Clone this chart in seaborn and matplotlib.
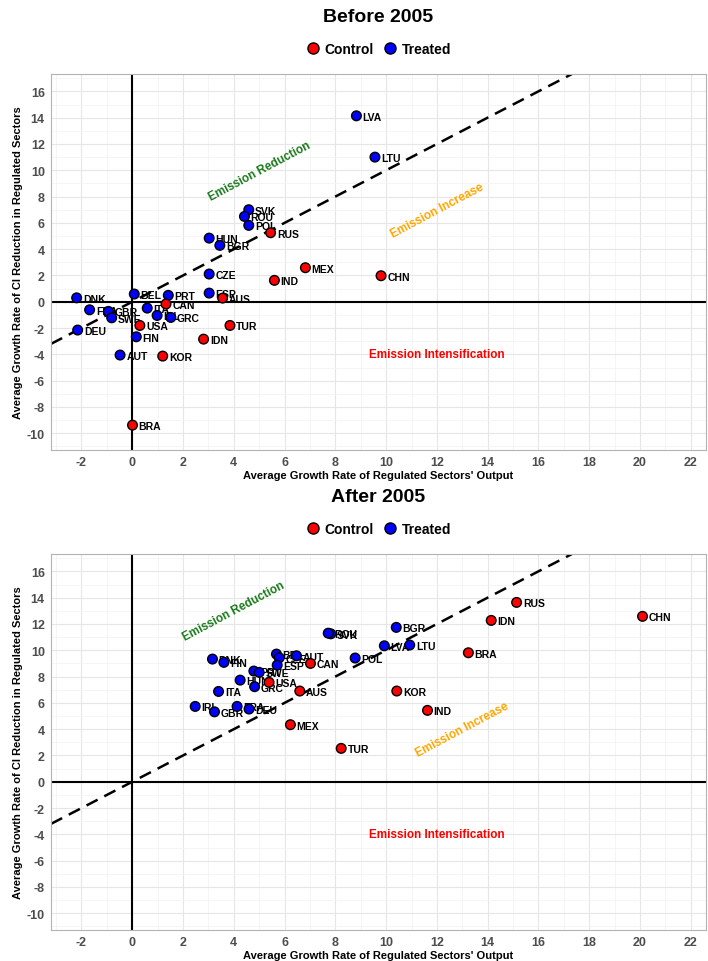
import pandas as pd
import matplotlib.pyplot as plt
import seaborn as sns
from matplotlib.lines import Line2D
from matplotlib.ticker import MultipleLocator

countries = ['DNK', 'BEL', 'PRT', 'CZE', 'ESP', 'AUS', 'CAN', 'ITA', 'IRL', 'GRC',
             'FRA', 'GBR', 'SWE', 'DEU', 'USA', 'FIN', 'TUR', 'IDN', 'AUT', 'KOR',
             'BRA', 'LVA', 'LTU', 'SVK', 'ROU', 'POL', 'RUS', 'HUN', 'BGR', 'MEX',
             'IND', 'CHN']
control = ['AUS', 'CAN', 'USA', 'TUR', 'IDN', 'KOR', 'BRA', 'RUS', 'MEX', 'IND', 'CHN']
group = ['Control' if c in control else 'Treated' for c in countries]

# before 2005
x_before = [-2.19, 0.08, 1.42, 3.03, 3.03, 3.56, 1.33, 0.59, 0.98, 1.52,
            -1.68, -0.94, -0.81, -2.15, 0.30, 0.16, 3.85, 2.81, -0.48, 1.20,
            0.01, 8.83, 9.56, 4.59, 4.42, 4.59, 5.45, 3.03, 3.45, 6.82,
            5.60, 9.80]
y_before = [0.30, 0.59, 0.49, 2.11, 0.66, 0.28, -0.17, -0.48, -1.04, -1.19,
            -0.61, -0.73, -1.22, -2.15, -1.80, -2.66, -1.80, -2.84, -4.05, -4.13,
            -9.38, 14.14, 11.00, 7.00, 6.49, 5.81, 5.25, 4.84, 4.29, 2.59,
            1.63, 1.98]

# after 2005
x_after = [3.16, 5.68, 4.79, 5.79, 5.71, 6.60, 7.02, 3.40, 2.48, 4.82,
           4.13, 3.24, 5.00, 4.60, 5.39, 3.61, 8.23, 14.14, 6.47, 10.42,
           13.24, 9.93, 10.93, 7.82, 7.72, 8.78, 15.14, 4.25, 10.40, 6.23,
           11.63, 20.10]
y_after = [9.33, 9.71, 8.42, 9.43, 8.87, 6.90, 9.00, 6.87, 5.73, 7.23,
           5.73, 5.32, 8.32, 5.53, 7.56, 9.08, 2.54, 12.27, 9.58, 6.90,
           9.81, 10.34, 10.40, 11.25, 11.30, 9.41, 13.64, 7.73, 11.74, 4.34,
           5.43, 12.58]

panels = [
    ('Before 2005', x_before, y_before, [(5, 10), (12, 7), (12, -4)]),
    ('After 2005', x_after, y_after, [(4, 13), (13, 4), (12, -4)]),
]

palette = {'Control': '#FF0000', 'Treated': '#0000FF'}

sns.set_style('white')
plt.rcParams['font.family'] = ['Liberation Sans', 'DejaVu Sans']
plt.rcParams['text.color'] = 'black'
plt.rcParams['axes.labelcolor'] = 'black'
plt.rcParams['axes.unicode_minus'] = False

fig = plt.figure(figsize=(7.08, 9.62), dpi=100)
W, H = 708, 962
tops = [75, 555]

for (title, xs, ys, ann), top in zip(panels, tops):
    ax = fig.add_axes([51 / W, 1 - (top + 376) / H, 655 / W, 376 / H])
    df = pd.DataFrame({'country': countries, 'group': group, 'x': xs, 'y': ys})

    ax.axhline(0, color='black', lw=1.5, zorder=2)
    ax.axvline(0, color='black', lw=1.5, zorder=2)
    ax.axline((0, 0), slope=1, color='black', lw=1.8, dashes=(5, 3), zorder=2)

    for _, r in df.iterrows():
        ax.annotate(r['country'], (r['x'], r['y']), xytext=(4.5, -0.7),
                    textcoords='offset points', ha='left', va='center',
                    fontsize=7.5, fontweight='bold', color='black', zorder=3)

    sns.scatterplot(data=df, x='x', y='y', hue='group', palette=palette,
                    s=48, edgecolor='black', linewidth=1, legend=False,
                    ax=ax, zorder=4)

    (rx, ry), (ix, iy), (nx, ny) = ann
    ax.text(rx, ry, 'Emission Reduction', color='#1A7A1A', fontsize=8.5,
            fontweight='bold', rotation=28, ha='center', va='center')
    ax.text(ix, iy, 'Emission Increase', color='#FFA500', fontsize=8.5,
            fontweight='bold', rotation=28, ha='center', va='center')
    ax.text(nx, ny, 'Emission Intensification', color='#FF0000', fontsize=8.5,
            fontweight='bold', ha='center', va='center')

    ax.set_xlim(-3.2, 22.6)
    ax.set_ylim(-11.27, 17.32)
    ax.xaxis.set_major_locator(MultipleLocator(2))
    ax.yaxis.set_major_locator(MultipleLocator(2))
    ax.xaxis.set_minor_locator(MultipleLocator(1))
    ax.yaxis.set_minor_locator(MultipleLocator(1))
    ax.grid(which='major', color='#E6E6E6', lw=0.8, zorder=0)
    ax.grid(which='minor', color='#F2F2F2', lw=0.5, zorder=0)
    ax.set_axisbelow(True)
    for sp in ax.spines.values():
        sp.set_color('#B3B3B3')
        sp.set_linewidth(0.8)
    ax.tick_params(which='major', length=2.5, width=0.8, color='#B3B3B3',
                   labelsize=9, labelcolor='#4D4D4D', pad=2)
    ax.tick_params(which='minor', length=0)
    for lab in ax.get_xticklabels() + ax.get_yticklabels():
        lab.set_fontweight('bold')

    ax.set_xlabel("Average Growth Rate of Regulated Sectors' Output",
                  fontsize=8, fontweight='bold', color='black')
    ax.set_ylabel('Average Growth Rate of CI Reduction in Regulated Sectors',
                  fontsize=8, fontweight='bold', color='black')
    ax.xaxis.label.set_va('center')
    ax.yaxis.label.set_va('center')
    ax.xaxis.set_label_coords(0.5, -25 / 376)
    ax.yaxis.set_label_coords((18 - 51) / 655, 0.5)

    fig.text(378 / W, 1 - (top - 57) / H, title, ha='center', va='center',
             fontsize=14, fontweight='bold', color='black')
    handles = [Line2D([], [], ls='none', marker='o', markersize=8,
                      markerfacecolor=palette[g], markeredgecolor='black',
                      markeredgewidth=1) for g in ['Control', 'Treated']]
    ax.legend(handles, ['Control', 'Treated'], loc='center',
              bbox_to_anchor=(378 / W, 1 - (top - 25) / H),
              bbox_transform=fig.transFigure, ncol=2, frameon=False,
              handletextpad=0.2, columnspacing=0.6, handlelength=1.2,
              prop={'weight': 'bold', 'size': 10})

fig.savefig('out.png', dpi=100)
